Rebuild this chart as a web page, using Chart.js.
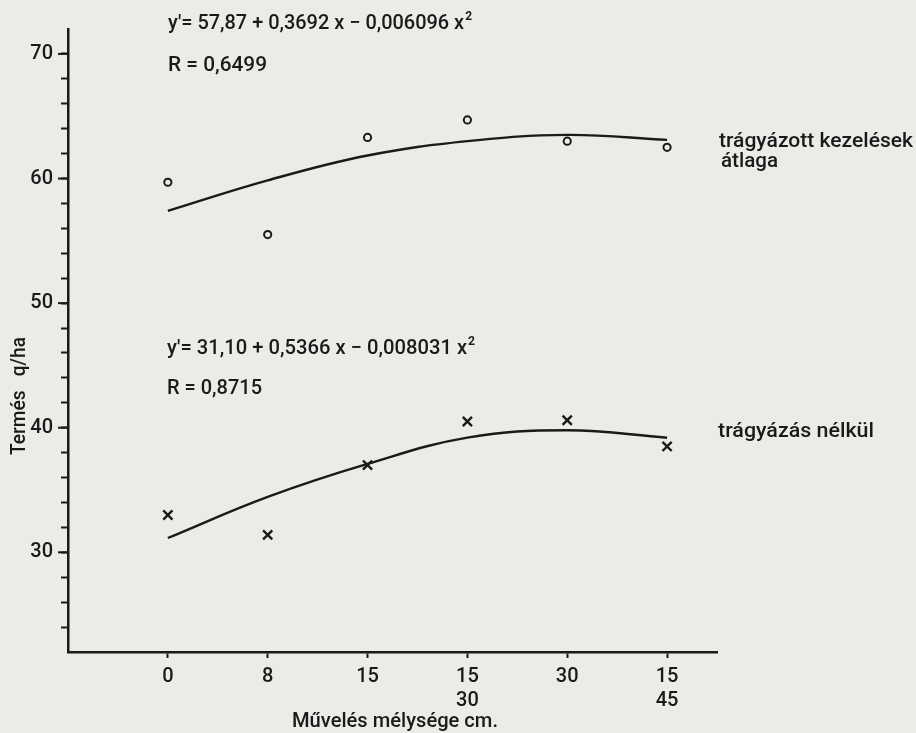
<!DOCTYPE html>
<html><head><meta charset="utf-8">
<script src="https://cdn.jsdelivr.net/npm/chart.js@4/dist/chart.umd.min.js"></script>
<style>html,body{margin:0;padding:0;background:#ecebe8;} canvas{display:block}</style>
</head><body>
<canvas id="c" width="916" height="733"></canvas>
<script>
// ---- data ----
const categories = ['0', '8', '15', ['15', '30'], '30', ['15', '45']];
const treatedObs = [59.7, 55.5, 63.3, 64.7, 63.0, 62.5];     // circles
const untreatedObs = [33.0, 31.4, 37.0, 40.5, 40.6, 38.5];   // crosses
const treatedFit = [57.4, 59.85, 61.85, 63.0, 63.5, 63.1];   // fitted curve (upper)
const untreatedFit = [31.15, 34.45, 37.1, 39.2, 39.8, 39.2]; // fitted curve (lower)
const yMajorTicks = [30, 40, 50, 60, 70];
const eqTreated = "y'= 57,87 + 0,3692 x − 0,006096 x";
const rTreated = "R = 0,6499";
const eqUntreated = "y'= 31,10 + 0,5366 x − 0,008031 x";
const rUntreated = "R = 0,8715";
const labelTreated1 = "trágyázott kezelések";
const labelTreated2 = "átlaga";
const labelUntreated = "trágyázás nélkül";
const xTitle = "Művelés mélysége cm.";
const yTitle = "Termés   q/ha";

const INK = '#1a1a1a';
const PAPER = '#ecebe8';
const FONT = 'Roboto, "DejaVu Sans", sans-serif';
const WEIGHT = '500';

const pts = arr => arr.map((v, i) => ({x: i, y: v}));

function fitText(ctx, text, x, y, w, size, sup) {
  ctx.save();
  ctx.font = WEIGHT + ' ' + size + 'px ' + FONT;
  let m = ctx.measureText(text).width;
  let supW = 0;
  const supFont = 'bold ' + Math.round(size * 0.62) + 'px ' + FONT;
  if (sup) { ctx.font = supFont; supW = ctx.measureText(sup).width + 1; }
  const s = w / (m + supW);
  ctx.translate(x, y);
  ctx.scale(s, 1);
  ctx.fillStyle = INK;
  ctx.textBaseline = 'alphabetic';
  ctx.textAlign = 'left';
  ctx.font = WEIGHT + ' ' + size + 'px ' + FONT;
  ctx.fillText(text, 0, 0);
  if (sup) {
    ctx.font = supFont;
    ctx.fillText(sup, m + 1, -size * 0.45);
  }
  ctx.restore();
}

const decor = {
  id: 'decor',
  beforeDraw(chart) {
    const c = chart.ctx;
    c.save(); c.fillStyle = PAPER; c.fillRect(0, 0, chart.width, chart.height); c.restore();
  },
  afterDraw(chart) {
    const c = chart.ctx;
    const ys = chart.scales.y;
    // longer major ticks
    c.save();
    c.strokeStyle = INK; c.lineWidth = 2;
    yMajorTicks.forEach(v => {
      const py = ys.getPixelForValue(v);
      c.beginPath(); c.moveTo(ys.right - 10, py); c.lineTo(ys.right, py); c.stroke();
    });
    c.restore();
    // annotations
    fitText(c, eqTreated, 168, 29, 304, 20, '2');
    fitText(c, rTreated, 168, 71, 99, 20);
    fitText(c, eqUntreated, 167, 354, 308, 20, '2');
    fitText(c, rUntreated, 167, 394, 95, 20);
    fitText(c, labelTreated1, 719, 147, 194, 20);
    fitText(c, labelTreated2, 721, 167, 57, 20);
    fitText(c, labelUntreated, 718, 437, 156, 20);
    fitText(c, xTitle, 292, 727, 206, 20);
    // y title rotated
    c.save();
    c.translate(25, 455);
    c.rotate(-Math.PI / 2);
    fitText(c, yTitle, 0, 0, 118, 20);
    c.restore();
  }
};

new Chart(document.getElementById('c'), {
  type: 'scatter',
  data: {
    datasets: [
      { label: 'trágyázott fit', data: pts(treatedFit), showLine: true, tension: 0.4,
        borderColor: INK, borderWidth: 2.4, pointRadius: 0, fill: false },
      { label: 'trágyázás nélkül fit', data: pts(untreatedFit), showLine: true, tension: 0.4,
        borderColor: INK, borderWidth: 2.4, pointRadius: 0, fill: false },
      { label: 'trágyázott kezelések átlaga', data: pts(treatedObs), pointStyle: 'circle',
        pointRadius: 3.6, borderColor: INK, borderWidth: 2, backgroundColor: 'rgba(0,0,0,0)' },
      { label: 'trágyázás nélkül', data: pts(untreatedObs), pointStyle: 'crossRot',
        pointRadius: 6.5, borderColor: INK, borderWidth: 2.4, backgroundColor: INK }
    ]
  },
  options: {
    responsive: false,
    animation: false,
    events: [],
    layout: { padding: { left: 0, top: 29, right: 199, bottom: 0 } },
    plugins: { legend: { display: false }, tooltip: { enabled: false } },
    scales: {
      x: {
        type: 'linear', min: -1, max: 5.5,
        afterBuildTicks: s => { s.ticks = categories.map((c, i) => ({ value: i })); },
        afterFit: s => { s.height = 733 - 652; },
        ticks: {
          autoSkip: false, maxRotation: 0, padding: 7, color: INK,
          font: { family: FONT, size: 20, weight: WEIGHT }, lineHeight: 1.05,
          callback: v => categories[v]
        },
        grid: { drawOnChartArea: false, drawTicks: true, tickLength: 6, tickWidth: 2, tickColor: INK },
        border: { display: true, color: INK, width: 2.5 }
      },
      y: {
        type: 'linear', min: 22, max: 72,
        afterFit: s => { s.width = 68; },
        ticks: {
          stepSize: 2, autoSkip: false, padding: 8, color: INK,
          font: { family: FONT, size: 20, weight: WEIGHT },
          callback: v => (v % 10 === 0 ? String(v) : '')
        },
        grid: {
          drawOnChartArea: false, drawTicks: true, tickLength: 7, tickWidth: 2,
          tickColor: ctx => (ctx.tick && (ctx.tick.value === 22 || ctx.tick.value === 72)) ? 'rgba(0,0,0,0)' : INK
        },
        border: { display: true, color: INK, width: 2.5 }
      }
    }
  },
  plugins: [decor]
});
</script>
</body></html>
